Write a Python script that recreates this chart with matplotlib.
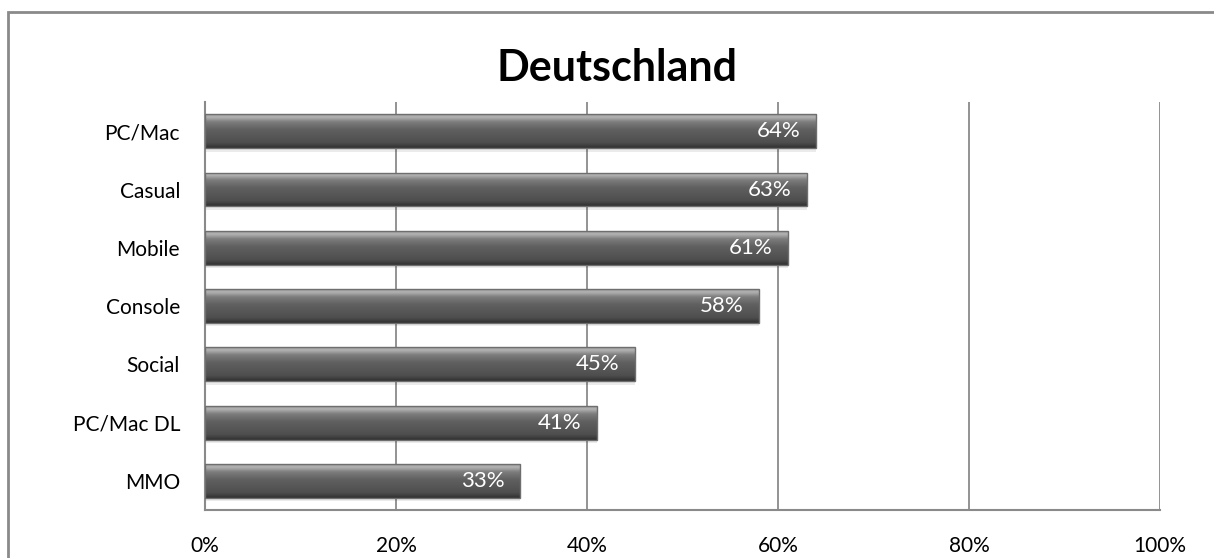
import numpy as np
import matplotlib
matplotlib.use("Agg")
import matplotlib.pyplot as plt
from matplotlib.colors import LinearSegmentedColormap

plt.rcParams['font.family'] = ['Lato', 'DejaVu Sans']

categories = ["PC/Mac", "Casual", "Mobile", "Console", "Social", "PC/Mac DL", "MMO"]
shares = [64, 63, 61, 58, 45, 41, 33]
xticks = [0, 20, 40, 60, 80, 100]
title = "Deutschland"

fig = plt.figure(figsize=(12.14, 5.58), dpi=100)
ax = fig.add_axes([0.1689, 0.086, 0.7866, 0.731])

# outer chart frame, runs off the right and bottom edge
frame = plt.Rectangle((8 / 1214, -0.1), 1.2, 1 - 12 / 558 + 0.1, transform=fig.transFigure,
                      fill=False, edgecolor="#8a8a8a", linewidth=2, zorder=0)
fig.add_artist(frame)

y = np.arange(len(categories))
h = 0.58

# soft shadow under each bar
ax.barh(y + 0.06, shares, height=h, color="#000000", alpha=0.08, zorder=2)
bars = ax.barh(y, shares, height=h, facecolor="none", edgecolor="#6e6e6e", linewidth=1, zorder=4)

grad = LinearSegmentedColormap.from_list("bevel", [
    (0.0, "#9a9a9a"), (0.08, "#b4b4b4"), (0.22, "#7e7e7e"), (0.45, "#606060"),
    (0.85, "#4e4e4e"), (1.0, "#303030")])
g = np.linspace(0, 1, 64).reshape(-1, 1)
for b in bars:
    x0, y0, w, hh = b.get_x(), b.get_y(), b.get_width(), b.get_height()
    im = ax.imshow(g, cmap=grad, aspect="auto", extent=(x0, x0 + w, y0 + hh, y0),
                   interpolation="bicubic", zorder=3)
    im.set_clip_path(b)

for yi, v in zip(y, shares):
    ax.text(v - 1.6, yi, f"{v}%", color="white", ha="right", va="center",
            fontsize=16, zorder=5)

ax.set_xlim(0, 100)
ax.set_ylim(len(categories) - 0.5, -0.5)
ax.set_xticks(xticks)
ax.set_xticklabels([f"{t}%" for t in xticks], fontsize=15)
ax.set_yticks(y)
ax.set_yticklabels(categories, fontsize=15)
ax.tick_params(axis="x", length=0, pad=19)
ax.tick_params(axis="y", length=0, pad=18)
ax.xaxis.grid(True, color="#8a8a8a", linewidth=1.3, zorder=1)
ax.set_axisbelow(True)
for s in ["top", "right"]:
    ax.spines[s].set_visible(False)
for s in ["left", "bottom"]:
    ax.spines[s].set_color("#8a8a8a")
    ax.spines[s].set_linewidth(1.5)

fig.text(617 / 1214, 1 - 68 / 558, title, ha="center", va="center", fontsize=31, fontweight="bold")

fig.savefig("out.png", dpi=100)
